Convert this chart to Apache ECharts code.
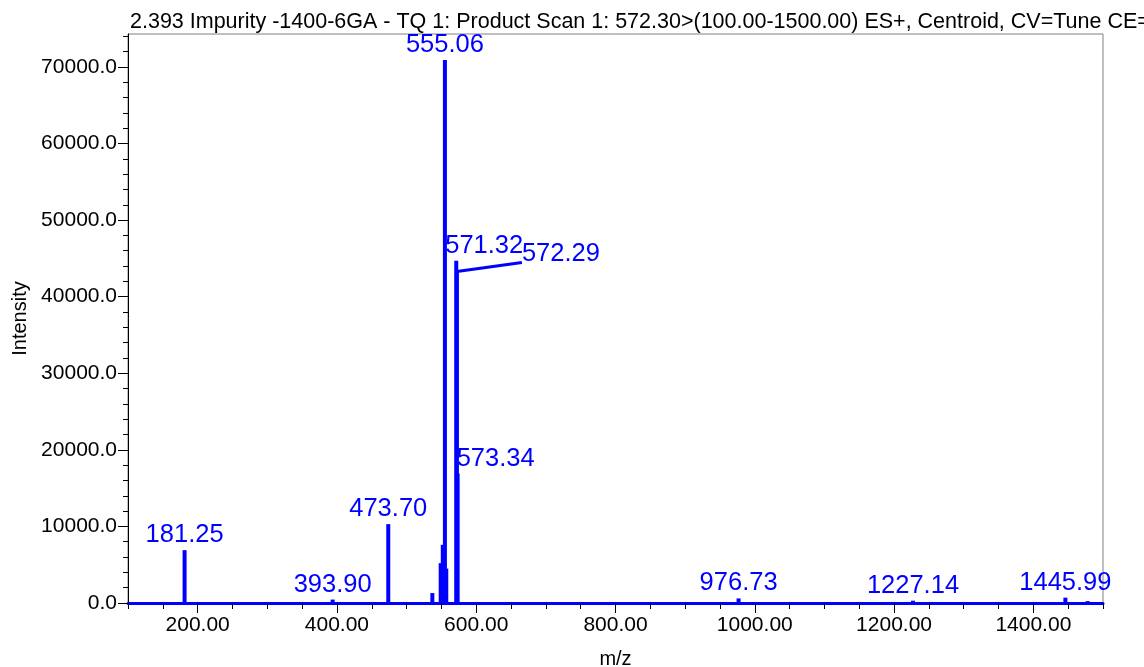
<!DOCTYPE html>
<html><head><meta charset="utf-8">
<script src="https://cdn.jsdelivr.net/npm/echarts@6/dist/echarts.min.js"></script>
<style>html,body{margin:0;padding:0;background:#fff}#c{width:1144px;height:667px}</style>
</head><body><div id="c"></div>
<script>
const titleText = '2.393 Impurity -1400-6GA - TQ 1: Product Scan 1: 572.30>(100.00-1500.00) ES+, Centroid, CV=Tune CE=';
const peakMz =        [181.25, 393.90, 473.70, 537.0, 549.0, 552.0, 555.06, 557.0, 571.32, 572.29, 573.34, 976.73, 1227.14, 1445.99, 1478.0];
const peakIntensity = [6900,   450,    10300,  1300,  5200,  7600,  70900,  4500,  44700,  43300,  16900,  600,    300,     700,     250];
const peakLabels =    ['181.25','393.90','473.70','','','','555.06','','571.32','572.29','573.34','976.73','1227.14','1445.99',''];
const xMajorTicks = [200, 400, 600, 800, 1000, 1200, 1400];
const yMajorTicks = [0, 10000, 20000, 30000, 40000, 50000, 60000, 70000];
const xRange = [100, 1500];
const yRange = [0, 74300];

const xMinorTicks = []; for (let v = 100; v <= 1500; v += 50) xMinorTicks.push(v);
const yMinorTicks = []; for (let v = 0; v <= 74000; v += 2000) yMinorTicks.push(v);

// label placement tweaks (layout only): [dx, dy, leader?]
const labelShift = {'571.32': [28, 0], '572.29': [104, -2, true], '573.34': [38, 0]};

const FONT = '"Liberation Sans", Arial, sans-serif';
const BLUE = '#0000ff';
const chart = echarts.init(document.getElementById('c'));
const baseAxisX = {type: 'value', min: xRange[0], max: xRange[1], position: 'bottom', splitLine: {show: false}};
const baseAxisY = {type: 'value', min: yRange[0], max: yRange[1], position: 'left', splitLine: {show: false}};
chart.setOption({
  animation: false,
  backgroundColor: '#fff',
  title: {text: titleText, left: 125, top: 6, textStyle: {fontSize: 21.5, fontWeight: 'normal', color: '#000', fontFamily: FONT}},
  grid: {left: 128, right: 41, top: 34, bottom: 64, show: true, borderColor: '#808080', borderWidth: 1, containLabel: false, outerBoundsMode: 'none'},
  xAxis: [
    Object.assign({}, baseAxisX, {
      axisLine: {lineStyle: {color: BLUE, width: 3}},
      axisTick: {customValues: xMajorTicks, length: 10, lineStyle: {color: '#000'}},
      axisLabel: {customValues: xMajorTicks, formatter: v => v.toFixed(2), margin: 12, fontSize: 21, color: '#000', fontFamily: FONT},
      name: 'm/z', nameLocation: 'middle', nameGap: 46, nameTextStyle: {fontSize: 20, color: '#000', fontFamily: FONT}
    }),
    Object.assign({}, baseAxisX, {
      axisLine: {show: false},
      axisTick: {customValues: xMinorTicks, length: 6, lineStyle: {color: '#000'}},
      axisLabel: {show: false}
    })
  ],
  yAxis: [
    Object.assign({}, baseAxisY, {
      axisLine: {show: true, lineStyle: {color: '#000', width: 1}},
      axisTick: {show: true, customValues: yMajorTicks, length: 10, lineStyle: {color: '#000'}},
      axisLabel: {customValues: yMajorTicks, formatter: v => v.toFixed(1), margin: 11, fontSize: 21, color: '#000', fontFamily: FONT},
      name: 'Intensity', nameLocation: 'middle', nameGap: 98, nameTextStyle: {fontSize: 20, color: '#000', fontFamily: FONT}
    }),
    Object.assign({}, baseAxisY, {
      axisLine: {show: false},
      axisTick: {show: true, customValues: yMinorTicks, length: 5, lineStyle: {color: '#000'}},
      axisLabel: {show: false}
    })
  ],
  series: [{
    type: 'custom',
    xAxisIndex: 0, yAxisIndex: 0,
    clip: false,
    data: peakMz.map((m, i) => [m, peakIntensity[i]]),
    renderItem: function (params, api) {
      const x = api.value(0), y = api.value(1);
      const top = api.coord([x, y]);
      const base = api.coord([x, 0]);
      const children = [{type: 'rect', shape: {x: top[0] - 2, y: top[1], width: 4, height: base[1] - top[1]}, style: {fill: BLUE}}];
      const lab = peakLabels[params.dataIndex];
      if (lab) {
        const s = labelShift[lab] || [0, 0];
        const tx = top[0] + s[0], ty = top[1] - 2 + s[1];
        children.push({type: 'text', z2: 10, style: {text: lab, x: tx, y: ty, align: 'center', verticalAlign: 'bottom', fill: BLUE, font: '25.5px ' + FONT}});
        if (s[2]) {
          children.push({type: 'line', shape: {x1: top[0], y1: top[1], x2: tx - 39, y2: ty - 5}, style: {stroke: BLUE, lineWidth: 3}});
        }
      }
      return {type: 'group', children: children};
    }
  }]
});
</script>
</body></html>
